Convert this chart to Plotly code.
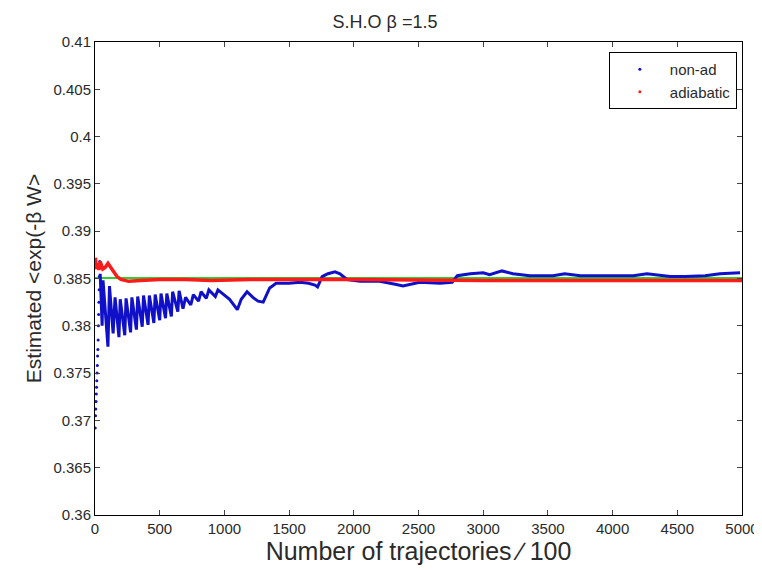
import plotly.graph_objects as go

# ---- data ----
title_text = "S.H.O β =1.5"
y_tick_vals = [0.36, 0.365, 0.37, 0.375, 0.38, 0.385, 0.39, 0.395, 0.4, 0.405, 0.41]
y_tick_text = ["0.36", "0.365", "0.37", "0.375", "0.38", "0.385", "0.39", "0.395", "0.4", "0.405", "0.41"]
x_tick_vals = [0, 500, 1000, 1500, 2000, 2500, 3000, 3500, 4000, 4500, 5000]

# early scattered estimates (non-adiabatic, very few trajectories)
early_x = [2, 4, 6, 8, 10, 12, 14, 16, 18, 20, 22, 24, 26, 28, 30, 32, 34, 36]
early_y = [0.3692, 0.3705, 0.3712, 0.3720, 0.3728, 0.3735, 0.3742, 0.3750, 0.3758,
           0.3768, 0.3775, 0.3785, 0.3800, 0.3812, 0.3825, 0.3838, 0.3852, 0.3868]

# non-adiabatic running estimate
nonad_x = [40, 55, 62, 100, 112, 140, 155, 185, 195, 230, 240, 275, 285, 320, 330, 365,
           375, 410, 420, 455, 465, 500, 510, 545, 555, 590, 600, 640, 650, 680, 700, 740,
           760, 800, 820, 860, 880, 930, 950, 1000, 1040, 1100, 1130, 1175, 1220, 1260,
           1300, 1350, 1400, 1500, 1585, 1650, 1700, 1720, 1755, 1800, 1855, 1893, 1947,
           2050, 2200, 2320, 2380, 2510, 2665, 2760, 2800, 2900, 3000, 3050, 3145, 3230,
           3360, 3540, 3630, 3750, 3955, 4055, 4160, 4265, 4445, 4560, 4715, 4830, 4985]
nonad_y = [0.3855, 0.3800, 0.3848, 0.3778, 0.3842, 0.3792, 0.3830, 0.3788, 0.3828, 0.3790,
           0.3829, 0.3793, 0.3830, 0.3796, 0.3831, 0.3799, 0.3832, 0.3801, 0.3832, 0.3803,
           0.3833, 0.3806, 0.3834, 0.3808, 0.3834, 0.3810, 0.3836, 0.3815, 0.3837, 0.3818,
           0.3830, 0.3822, 0.3833, 0.3826, 0.3836, 0.3829, 0.3838, 0.3831, 0.3838, 0.3832,
           0.3828, 0.3817, 0.3828, 0.3836, 0.3830, 0.3826, 0.3825, 0.3840, 0.3845, 0.3845,
           0.3846, 0.3845, 0.3843, 0.3841, 0.3852, 0.3855, 0.3857, 0.3855, 0.3849, 0.3847,
           0.3847, 0.3844, 0.3842, 0.3846, 0.3845, 0.3846, 0.3853, 0.3855, 0.3856, 0.3854,
           0.3858, 0.3855, 0.3853, 0.3853, 0.3855, 0.3853, 0.3853, 0.3853, 0.3853, 0.3855,
           0.3852, 0.3852, 0.3853, 0.3855, 0.3856]

# adiabatic running estimate
adiab_x = [3, 10, 20, 30, 40, 60, 80, 100, 110, 140, 170, 200, 260, 350, 500, 700, 900,
           1200, 2000, 3000, 4000, 5000]
adiab_y = [0.3872, 0.3860, 0.3866, 0.3859, 0.3868, 0.3860, 0.3862, 0.3866, 0.3864, 0.3858,
           0.3852, 0.3849, 0.3847, 0.3848, 0.3849, 0.3849, 0.3848, 0.3849, 0.3849, 0.3848,
           0.3848, 0.3848]

# exact reference value
exact_x = [0, 5000]
exact_y = [0.38505, 0.38505]

FONT = "Liberation Sans, Arial, sans-serif"
TXT = "#2a2a2a"

fig = go.Figure()
fig.add_trace(go.Scatter(x=exact_x, y=exact_y, mode="lines",
                         line=dict(color="#33cc33", width=2), showlegend=False))
fig.add_trace(go.Scatter(x=early_x, y=early_y, mode="markers",
                         marker=dict(color="#1010c8", size=3), showlegend=False))
fig.add_trace(go.Scatter(x=nonad_x, y=nonad_y, mode="lines",
                         line=dict(color="#1010c8", width=3), showlegend=False))
fig.add_trace(go.Scatter(x=adiab_x, y=adiab_y, mode="lines",
                         line=dict(color="#ff1a1a", width=3.5), showlegend=False))
# legend entries (dot markers, as in the reference)
fig.add_trace(go.Scatter(x=[None], y=[None], mode="markers", name="non-ad",
                         marker=dict(color="#1010c8", size=3)))
fig.add_trace(go.Scatter(x=[None], y=[None], mode="markers", name="adiabatic",
                         marker=dict(color="#ff1a1a", size=3)))

fig.update_layout(
    width=754, height=562,
    paper_bgcolor="white", plot_bgcolor="white",
    margin=dict(l=87, r=20, t=34, b=55, autoexpand=False),
    font=dict(family=FONT, color=TXT, size=14),
    title=dict(text=title_text, x=0.5, xanchor="center", y=0.975, yanchor="middle",
               font=dict(size=18, family=FONT, color=TXT)),
    legend=dict(x=0.992, y=0.979, xanchor="right", yanchor="top",
                bgcolor="white", bordercolor="black", borderwidth=1,
                font=dict(size=15, family=FONT, color=TXT), itemwidth=50, tracegroupgap=0),
    showlegend=True,
)
fig.update_xaxes(range=[0, 5000], tickvals=x_tick_vals, ticks="inside", ticklen=5,
                 showline=True, linecolor="black", linewidth=1, mirror="ticks",
                 showgrid=False, zeroline=False, automargin=False,
                 tickfont=dict(size=15, family=FONT, color=TXT),
                 title=dict(text="Number of trajectories ∕ 100",
                            font=dict(size=25, family=FONT, color=TXT), standoff=2))
fig.update_yaxes(range=[0.36, 0.41], tickvals=y_tick_vals, ticktext=y_tick_text,
                 ticks="inside", ticklen=5,
                 showline=True, linecolor="black", linewidth=1, mirror="ticks",
                 showgrid=False, zeroline=False, automargin=False,
                 tickfont=dict(size=15, family=FONT, color=TXT),
                 title=dict(text="Estimated <exp(-β W>",
                            font=dict(size=21, family=FONT, color=TXT), standoff=6))

fig.write_html("out.html")
